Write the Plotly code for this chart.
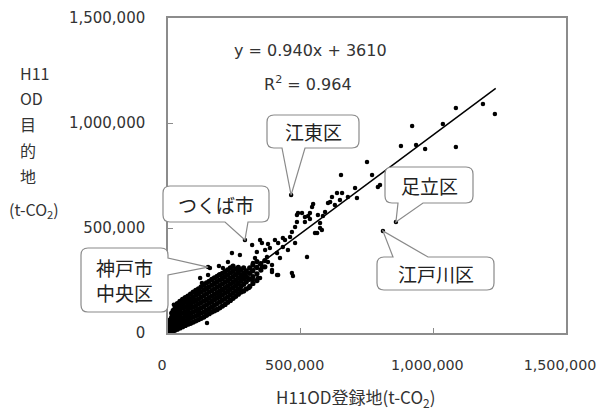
import plotly.graph_objects as go

# ---------------- data (t-CO2) ----------------
# sparse / outer points: (H11OD登録地, H11OD目的地)
outer_points = [
    (1085000, 1071000), (1187000, 1091000), (1232000, 1043000), (920000, 986000),
    (1036000, 995000), (878000, 890000), (935000, 895000), (969000, 876000),
    (1085000, 886000), (750000, 814000), (652000, 752000), (769000, 752000),
    (791000, 695000), (799000, 705000), (705000, 690000), (712000, 643000),
    (618000, 648000), (637000, 667000), (656000, 667000), (648000, 633000),
    (611000, 624000), (547000, 614000), (592000, 576000), (584000, 557000),
    (565000, 562000), (535000, 571000), (516000, 552000), (505000, 571000),
    (486000, 562000), (486000, 529000), (516000, 529000), (678000, 648000),
    (603000, 619000), (629000, 610000), (528000, 557000), (479000, 505000),
    (467000, 481000), (554000, 476000), (580000, 490000), (573000, 524000),
    (535000, 543000), (460000, 457000), (479000, 429000), (441000, 443000),
    (415000, 429000), (403000, 443000), (433000, 410000), (452000, 395000),
    (384000, 405000), (411000, 381000), (422000, 357000), (524000, 362000),
    (317000, 419000), (347000, 443000), (354000, 429000), (335000, 386000),
    (366000, 395000), (373000, 362000), (328000, 357000), (320000, 333000),
    (377000, 338000), (392000, 324000), (392000, 290000), (411000, 276000),
    (467000, 286000), (471000, 271000), (354000, 314000), (339000, 262000),
    (302000, 262000), (279000, 276000), (241000, 381000), (271000, 371000),
    (226000, 338000), (207000, 310000), (158000, 310000), (121000, 262000),
    (128000, 238000), (192000, 319000), (192000, 276000), (151000, 276000),
    (271000, 205000), (305000, 214000), (347000, 262000), (320000, 252000),
    (392000, 300000), (415000, 276000), (147000, 48000), (22000, 135000),
    (30000, 128000), (377000, 424000), (433000, 452000), (490000, 571000),
    (562000, 476000), (573000, 500000), (543000, 600000),
]

# dense cluster near the origin
cluster_points = [
    (3000, 3000), (3000, 12000), (3000, 25000), (3000, 40000),
    (8000, 5000), (8000, 18000), (8000, 30000), (8000, 48000), (8000, 62000),
    (14000, 8000), (14000, 20000), (14000, 35000), (14000, 55000), (14000, 75000), (14000, 95000),
    (20000, 10000), (20000, 28000), (20000, 45000), (20000, 65000), (20000, 85000), (20000, 108000),
    (27000, 14000), (27000, 32000), (27000, 52000), (27000, 70000), (27000, 92000), (27000, 118000),
    (35000, 18000), (35000, 38000), (35000, 58000), (35000, 80000), (35000, 102000), (35000, 125000), (35000, 140000),
    (45000, 24000), (45000, 45000), (45000, 66000), (45000, 88000), (45000, 110000), (45000, 132000), (45000, 150000),
    (55000, 30000), (55000, 50000), (55000, 72000), (55000, 95000), (55000, 118000), (55000, 140000), (55000, 160000),
    (65000, 36000), (65000, 58000), (65000, 80000), (65000, 102000), (65000, 125000), (65000, 148000), (65000, 168000),
    (75000, 42000), (75000, 64000), (75000, 88000), (75000, 110000), (75000, 132000), (75000, 155000), (75000, 176000),
    (85000, 46000), (85000, 70000), (85000, 94000), (85000, 118000), (85000, 140000), (85000, 162000), (85000, 185000),
    (95000, 52000), (95000, 76000), (95000, 100000), (95000, 124000), (95000, 148000), (95000, 170000), (95000, 195000),
    (105000, 58000), (105000, 82000), (105000, 106000), (105000, 130000), (105000, 155000), (105000, 180000), (105000, 203000),
    (115000, 64000), (115000, 88000), (115000, 112000), (115000, 138000), (115000, 162000), (115000, 188000), (115000, 210000),
    (125000, 70000), (125000, 95000), (125000, 120000), (125000, 145000), (125000, 170000), (125000, 196000), (125000, 220000),
    (135000, 76000), (135000, 100000), (135000, 126000), (135000, 152000), (135000, 178000), (135000, 204000), (135000, 228000),
    (145000, 84000), (145000, 108000), (145000, 134000), (145000, 160000), (145000, 186000), (145000, 212000), (145000, 238000),
    (155000, 92000), (155000, 116000), (155000, 142000), (155000, 168000), (155000, 195000), (155000, 220000), (155000, 246000),
    (165000, 100000), (165000, 124000), (165000, 150000), (165000, 176000), (165000, 202000), (165000, 228000), (165000, 255000),
    (175000, 106000), (175000, 132000), (175000, 158000), (175000, 184000), (175000, 210000), (175000, 236000), (175000, 262000),
    (185000, 112000), (185000, 140000), (185000, 166000), (185000, 192000), (185000, 218000), (185000, 244000), (185000, 270000),
    (195000, 120000), (195000, 148000), (195000, 174000), (195000, 200000), (195000, 226000), (195000, 252000), (195000, 278000),
    (205000, 128000), (205000, 156000), (205000, 182000), (205000, 208000), (205000, 234000), (205000, 260000), (205000, 284000),
    (215000, 136000), (215000, 164000), (215000, 190000), (215000, 216000), (215000, 242000), (215000, 268000), (215000, 292000),
    (225000, 146000), (225000, 172000), (225000, 198000), (225000, 224000), (225000, 250000), (225000, 276000), (225000, 300000),
    (235000, 155000), (235000, 182000), (235000, 208000), (235000, 234000), (235000, 260000), (235000, 286000), (235000, 310000),
    (245000, 165000), (245000, 190000), (245000, 216000), (245000, 242000), (245000, 268000), (245000, 294000), (245000, 318000),
    (255000, 175000), (255000, 200000), (255000, 226000), (255000, 252000), (255000, 278000), (255000, 304000),
    (265000, 185000), (265000, 210000), (265000, 236000), (265000, 262000), (265000, 288000), (265000, 312000),
    (275000, 195000), (275000, 222000), (275000, 248000), (275000, 274000), (275000, 300000),
    (285000, 200000), (285000, 232000), (285000, 258000), (285000, 284000), (285000, 310000),
    (295000, 210000), (295000, 244000), (295000, 270000), (295000, 296000),
    (308000, 222000), (308000, 256000), (308000, 284000), (308000, 310000),
    (320000, 236000), (320000, 268000), (320000, 296000), (320000, 324000),
    (335000, 250000), (335000, 282000), (335000, 312000), (335000, 340000),
    (350000, 300000), (350000, 330000), (365000, 315000), (365000, 345000),
]

# labelled municipalities
labels = ["江東区", "足立区", "江戸川区", "つくば市", "神戸市<br>中央区"]
label_x = [464000, 859000, 810000, 290000, 151000]
label_y = [657000, 529000, 486000, 443000, 314000]

# regression
slope = 0.940
intercept = 3610
r_squared = 0.964
fit_x = [0, 1235000]

# axis
axis_max = 1500000
tick_vals = [0, 500000, 1000000, 1500000]

# ---------------- layout geometry ----------------
OFF = 8                                # default page body margin
W, H = 605 - OFF, 411 - OFF            # figure size
PL, PT, PW, PH = 168, 18, 398, 315     # plot area in page pixels

def px(x):
    return (x - PL) / PW

def py(y):
    return (PT + PH - y) / PH

def data_px(xv, yv):
    return PL + xv / axis_max * PW, PT + PH - yv / axis_max * PH

fig = go.Figure()
fig.add_trace(go.Scatter(
    x=[p[0] for p in cluster_points], y=[p[1] for p in cluster_points], mode="markers",
    marker=dict(color="black", size=5.3, line=dict(width=0)),
    hoverinfo="x+y", showlegend=False,
))
fig.add_trace(go.Scatter(
    x=[p[0] for p in outer_points] + label_x, y=[p[1] for p in outer_points] + label_y,
    mode="markers", marker=dict(color="black", size=4.5, line=dict(width=0)),
    hoverinfo="x+y", showlegend=False,
))
fig.add_trace(go.Scatter(
    x=fit_x, y=[slope * v + intercept for v in fit_x], mode="lines",
    line=dict(color="black", width=1.5), hoverinfo="skip", showlegend=False,
))

# callout boxes (page-pixel boxes, tail tip at the data point)
boxes = [
    (267, 115, 359, 148, "bottom", 282, 305),
    (385, 167, 473, 203, "bottom", 398, 423),
    (377, 257, 494, 290, "top", 393, 428),
    (163, 186, 269, 222, "bottom", 225, 248),
    (81, 248, 168, 312, "right", 258, 275),
]

def callout_path(x0, y0, x1, y1, side, b0, b1, tip, r=7):
    cmds = []
    def P(c, *xy):
        coords = [f"{px(xy[i]):.5f},{py(xy[i+1]):.5f}" for i in range(0, len(xy), 2)]
        cmds.append(c + " " + " ".join(coords))
    P("M", x0 + r, y0)
    if side == "top":
        P("L", b0, y0); P("L", tip[0], tip[1]); P("L", b1, y0)
    P("L", x1 - r, y0)
    P("Q", x1, y0, x1, y0 + r)
    if side == "right":
        P("L", x1, b0); P("L", tip[0], tip[1]); P("L", x1, b1)
    P("L", x1, y1 - r)
    P("Q", x1, y1, x1 - r, y1)
    if side == "bottom":
        P("L", b1, y1); P("L", tip[0], tip[1]); P("L", b0, y1)
    P("L", x0 + r, y1)
    P("Q", x0, y1, x0, y1 - r)
    P("L", x0, y0 + r)
    P("Q", x0, y0, x0 + r, y0)
    return " ".join(cmds) + " Z"

shapes = []
annotations = []
jp_font = "Noto Sans CJK JP"
for (x0, y0, x1, y1, side, b0, b1), lab, lx, ly in zip(boxes, labels, label_x, label_y):
    tip = data_px(lx, ly)
    shapes.append(dict(
        type="path", xref="paper", yref="paper",
        path=callout_path(x0, y0, x1, y1, side, b0, b1, tip),
        line=dict(color="#8a8a8a", width=1.2), fillcolor="white", layer="above",
    ))
    annotations.append(dict(
        x=px((x0 + x1) / 2), y=py((y0 + y1) / 2), xref="paper", yref="paper",
        text=lab, showarrow=False, xanchor="center", yanchor="middle",
        font=dict(family=jp_font, size=19, color="#222"),
    ))

num_font = "DejaVu Sans"
annotations.append(dict(
    x=px(310), y=py(51), xref="paper", yref="paper", showarrow=False,
    text=f"y = {slope:.3f}x + {intercept}", xanchor="center", yanchor="middle",
    font=dict(family=num_font, size=16, color="#333"),
))
annotations.append(dict(
    x=px(308), y=py(83), xref="paper", yref="paper", showarrow=False,
    text=f"R<sup>2</sup> = {r_squared:.3f}", xanchor="center", yanchor="middle",
    font=dict(family=num_font, size=16, color="#333"),
))

# y axis title (stacked)
ytitle_lines = [("H11", 18, 73), ("OD", 18, 98), ("目", 18, 124), ("的", 18, 150),
                ("地", 18, 176), ("(t-CO<sub>2</sub>)", 7, 209)]
for txt, xl, yc in ytitle_lines:
    annotations.append(dict(
        x=px(xl), y=py(yc), xref="paper", yref="paper", showarrow=False,
        text=txt, xanchor="left", yanchor="middle",
        font=dict(family=jp_font, size=16, color="#333"),
    ))
# x axis title
annotations.append(dict(
    x=px(355), y=py(397), xref="paper", yref="paper", showarrow=False,
    text="H11OD登録地(t-CO<sub>2</sub>)", xanchor="center", yanchor="middle",
    font=dict(family=jp_font, size=17, color="#333"),
))

axis_common = dict(
    range=[0, axis_max], tickvals=tick_vals, tickformat=",d",
    showgrid=False, zeroline=False, showline=True, linecolor="#8c8c8c", linewidth=1.5,
    mirror=True, ticks="inside", ticklen=5, tickcolor="#8c8c8c", tickwidth=1,
    tickfont=dict(family=num_font, size=15, color="#333"),
    ticklabelstandoff=18, ticklabeloverflow="allow", fixedrange=True,
)

fig.update_layout(
    width=W, height=H,
    margin=dict(l=PL - OFF, r=W - (PL - OFF) - PW, t=PT - OFF, b=H - (PT - OFF) - PH,
                autoexpand=False),
    paper_bgcolor="white", plot_bgcolor="white",
    xaxis=dict(axis_common, ticklabelshift=-6,
               tickfont=dict(family=num_font, size=14.3, color="#333")),
    yaxis=axis_common,
    shapes=shapes, annotations=annotations, showlegend=False,
)

fig.write_html("out.html")
